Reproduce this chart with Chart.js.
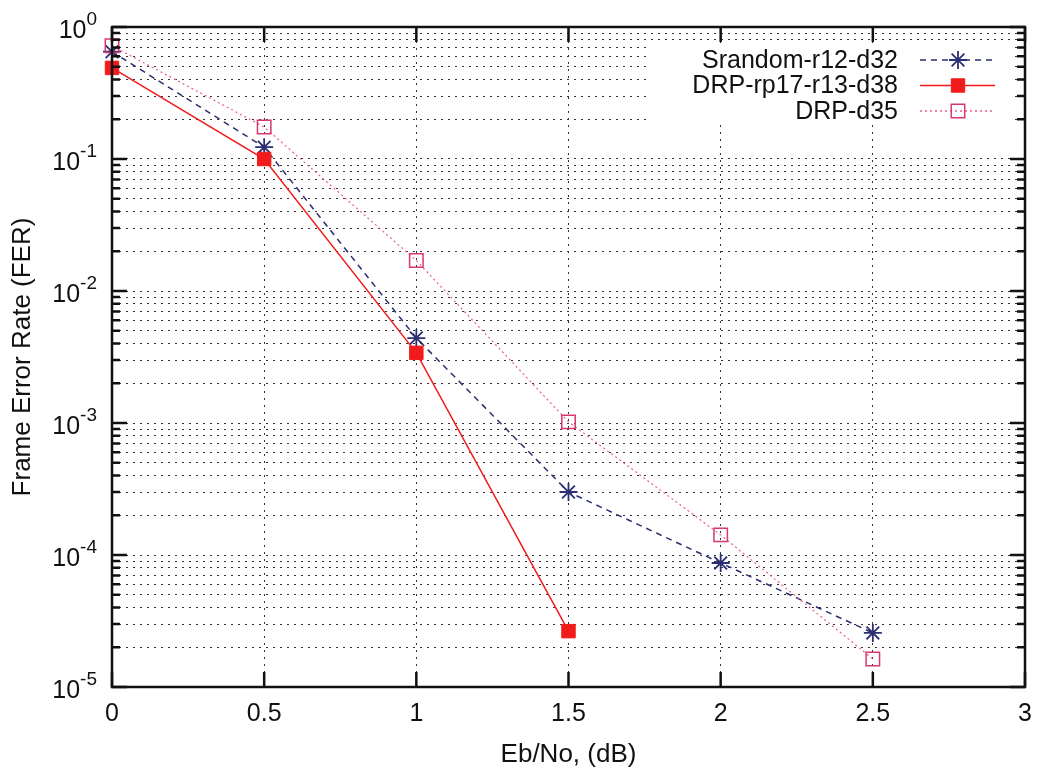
<!DOCTYPE html>
<html>
<head>
<meta charset="utf-8">
<script src="https://cdn.jsdelivr.net/npm/chart.js@4/dist/chart.umd.min.js"></script>
<style>
  body { margin: 0; background: #fff; }
  #wrap { width: 1047px; height: 773px; }
</style>
</head>
<body>
<div id="wrap"><canvas id="fer" width="1047" height="773"></canvas></div>
<script>
// data
var xValues = [0, 0.5, 1, 1.5, 2, 2.5];
var srandom = [0.65, 0.123, 0.0044, 3.0e-4, 8.7e-5, 2.57e-5];
var drpRp17 = [0.49, 0.1, 0.0034, 2.65e-5];
var drpD35 = [0.72, 0.175, 0.017, 1.02e-3, 1.42e-4, 1.63e-5];
var xTicks = [0, 0.5, 1, 1.5, 2, 2.5, 3];
var yExponents = [0, -1, -2, -3, -4, -5];
var seriesNames = ["Srandom-r12-d32", "DRP-rp17-r13-d38", "DRP-d35"];

var FONT = "'Liberation Sans', Arial, sans-serif";
var navy = "#2b2e70";
var red = "#f21b1b";
var pink = "#ee5b8c";
var pinkMark = "#d8386c";

function pts(vals) {
  return vals.map(function (v, i) { return { x: xValues[i], y: v }; });
}

// all grid values 1..9 x 10^e
var yGrid = [];
yExponents.slice().reverse().forEach(function (e) {
  for (var m = 1; m <= 9; m++) {
    if (e === 0 && m > 1) break;
    yGrid.push(m * Math.pow(10, e));
  }
});

var legendItems = [
  { text: seriesNames[0], color: navy, dash: [6, 5], style: "star", radius: 9, fill: navy, stroke: navy, bw: 1.8 },
  { text: seriesNames[1], color: red, dash: [], style: "rect", radius: 9.5, fill: red, stroke: red, bw: 1 },
  { text: seriesNames[2], color: pink, dash: [2, 3], style: "rect", radius: 9.5, fill: "rgba(0,0,0,0)", stroke: pinkMark, bw: 1.5 }
];

var framePlugin = {
  id: "frame",
  beforeDatasetsDraw: function (chart) {
    var ctx = chart.ctx, a = chart.chartArea;
    ctx.save();
    // key box (opaque)
    ctx.fillStyle = "#fff";
    ctx.fillRect(a.left + 536, a.top + 16, 364, 79);
    ctx.font = "25px " + FONT;
    ctx.textAlign = "right";
    ctx.textBaseline = "middle";
    legendItems.forEach(function (it, i) {
      var y = a.top + 33 + i * 25.5;
      ctx.fillStyle = "#111";
      ctx.fillText(it.text, a.right - 127, y + 1);
      ctx.strokeStyle = it.color;
      ctx.lineWidth = 1.5;
      ctx.setLineDash(it.dash);
      ctx.beginPath();
      ctx.moveTo(a.right - 105, y);
      ctx.lineTo(a.right - 30, y);
      ctx.stroke();
      ctx.setLineDash([]);
      ctx.fillStyle = it.fill;
      ctx.strokeStyle = it.stroke;
      ctx.lineWidth = it.bw;
      Chart.helpers.drawPoint(ctx, { pointStyle: it.style, radius: it.radius, rotation: 0, borderWidth: it.bw }, a.right - 67, y);
    });
    ctx.restore();
  },
  afterDraw: function (chart) {
    var ctx = chart.ctx, a = chart.chartArea;
    var xs = chart.scales.x, ys = chart.scales.y;
    ctx.save();
    ctx.strokeStyle = "#111";
    ctx.lineWidth = 2.5;
    ctx.setLineDash([]);
    // inward ticks
    ys.ticks.forEach(function (t) {
      var py = ys.getPixelForValue(t.value);
      var lg = Math.log10(t.value);
      var len = Math.abs(lg - Math.round(lg)) < 1e-6 ? 15 : 8;
      ctx.beginPath();
      ctx.moveTo(a.left, py); ctx.lineTo(a.left + len, py);
      ctx.moveTo(a.right, py); ctx.lineTo(a.right - len, py);
      ctx.stroke();
    });
    xTicks.forEach(function (v) {
      var px = xs.getPixelForValue(v);
      ctx.beginPath();
      ctx.moveTo(px, a.bottom); ctx.lineTo(px, a.bottom - 15);
      ctx.moveTo(px, a.top); ctx.lineTo(px, a.top + 15);
      ctx.stroke();
    });
    // frame
    ctx.strokeRect(a.left, a.top, a.right - a.left, a.bottom - a.top);
    // y tick labels 10^e
    ctx.fillStyle = "#111";
    ctx.textAlign = "right";
    ctx.textBaseline = "alphabetic";
    yExponents.forEach(function (e) {
      var py = ys.getPixelForValue(Math.pow(10, e));
      var sup = e === 0 ? "0" : "-" + Math.abs(e);
      ctx.font = "19px " + FONT;
      var sw = ctx.measureText(sup).width;
      ctx.fillText(sup, 97, py - 2);
      ctx.font = "25px " + FONT;
      ctx.fillText("10", 97 - sw, py + 11);
    });
    ctx.restore();
  }
};

var ctx = document.getElementById("fer").getContext("2d");
var ferChart = new Chart(ctx, {
  type: "line",
  data: {
    datasets: [
      {
        label: seriesNames[0],
        data: pts(srandom),
        borderColor: navy,
        borderWidth: 1.5,
        borderDash: [6, 5],
        pointStyle: "star",
        pointRadius: 9,
        pointBorderWidth: 1.8,
        pointBorderColor: navy,
        pointBackgroundColor: navy,
        clip: false,
        order: 3
      },
      {
        label: seriesNames[1],
        data: pts(drpRp17),
        borderColor: red,
        borderWidth: 1.5,
        pointStyle: "rect",
        pointRadius: 9.5,
        pointBorderWidth: 1,
        pointBorderColor: red,
        pointBackgroundColor: red,
        clip: false,
        order: 2
      },
      {
        label: seriesNames[2],
        data: pts(drpD35),
        borderColor: pink,
        borderWidth: 1.2,
        borderDash: [2, 3],
        pointStyle: "rect",
        pointRadius: 9.5,
        pointBorderWidth: 1.5,
        pointBorderColor: pinkMark,
        pointBackgroundColor: "rgba(0,0,0,0)",
        clip: false,
        order: 1
      }
    ]
  },
  options: {
    responsive: false,
    animation: false,
    events: [],
    layout: { padding: { top: 27, right: 22, left: 0, bottom: 0 } },
    plugins: {
      legend: { display: false },
      tooltip: { enabled: false }
    },
    scales: {
      x: {
        type: "linear",
        min: 0,
        max: 3,
        afterBuildTicks: function (s) {
          s.ticks = xTicks.map(function (v) { return { value: v }; });
        },
        afterFit: function (s) { s.height = 86; },
        ticks: {
          autoSkip: false,
          maxRotation: 0,
          padding: 12,
          color: "#111",
          font: { size: 25, family: FONT },
          callback: function (v) { return String(v); }
        },
        grid: { color: "#333", lineWidth: 1, drawTicks: false },
        border: { display: false, dash: [2, 5] },
        title: {
          display: true,
          text: "Eb/No, (dB)",
          color: "#111",
          font: { size: 26, family: FONT },
          padding: { top: 0, bottom: 3 }
        }
      },
      y: {
        type: "logarithmic",
        min: 1e-5,
        max: 1,
        afterBuildTicks: function (s) {
          s.ticks = yGrid.map(function (v) { return { value: v }; });
        },
        afterFit: function (s) { s.width = 112; },
        ticks: { display: false, autoSkip: false },
        grid: { color: "#333", lineWidth: 1, drawTicks: false },
        border: { display: false, dash: [2, 5] },
        title: {
          display: true,
          text: "Frame Error Rate (FER)",
          color: "#111",
          font: { size: 26, family: FONT },
          padding: { top: 7, bottom: 0 }
        }
      }
    }
  },
  plugins: [framePlugin]
});
</script>
</body>
</html>
